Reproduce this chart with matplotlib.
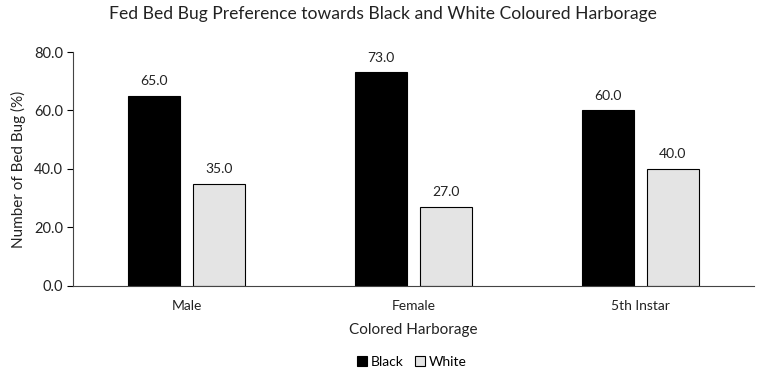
import matplotlib
matplotlib.use("Agg")
import matplotlib.pyplot as plt
import numpy as np

categories = ["Male", "Female", "5th Instar"]
black_values = [65.0, 73.0, 60.0]
white_values = [35.0, 27.0, 40.0]
series_names = ["Black", "White"]
yticks = [0, 20, 40, 60, 80]

plt.rcParams['font.family'] = ['Lato', 'DejaVu Sans']

fig = plt.figure(figsize=(7.66, 3.76), dpi=100)
ax = fig.add_axes([0.0953, 0.2394, 0.889, 0.6223])

x = np.arange(len(categories)) + 0.5
w = 0.228
off = 0.143
b1 = ax.bar(x - off, black_values, w, color="#000000", edgecolor="#000000", linewidth=0.8, label=series_names[0])
b2 = ax.bar(x + off, white_values, w, color="#e4e4e4", edgecolor="#000000", linewidth=0.8, label=series_names[1])

for bars, vals in ((b1, black_values), (b2, white_values)):
    for r, v in zip(bars, vals):
        ax.text(r.get_x() + r.get_width() / 2, v + 3, f"{v:.1f}", ha="center", va="bottom", fontsize=10, color="#222222")

ax.set_xlim(0, 3)
ax.set_ylim(0, 80)
ax.set_yticks(yticks)
ax.set_yticklabels([f"{t:.1f}" for t in yticks], fontsize=10.5, color="#222222")
ax.set_xticks(x)
ax.set_xticklabels(categories, fontsize=10, color="#222222")
ax.tick_params(axis="x", length=0, pad=10)
ax.tick_params(axis="y", length=4, width=0.8, pad=3)
for s in ("top", "right"):
    ax.spines[s].set_visible(False)
ax.spines["left"].set_linewidth(0.8)
ax.spines["bottom"].set_linewidth(0.8)
ax.spines["bottom"].set_color("#444444")
ax.spines["left"].set_color("#444444")

ax.set_ylabel("Number of Bed Bug (%)", fontsize=11, color="#222222", labelpad=6)
ax.set_xlabel("Colored Harborage", fontsize=11, color="#222222", labelpad=8)
fig.suptitle("Fed Bed Bug Preference towards Black and White Coloured Harborage", fontsize=12.6, color="#222222", y=0.985)

leg = fig.legend(handles=[b1, b2], labels=series_names, loc="center", bbox_to_anchor=(0.538, 0.038), ncol=2,
                 frameon=False, fontsize=10, handlelength=0.7, handleheight=0.7, handletextpad=0.3, columnspacing=0.8)

fig.savefig("out.png", dpi=100)
